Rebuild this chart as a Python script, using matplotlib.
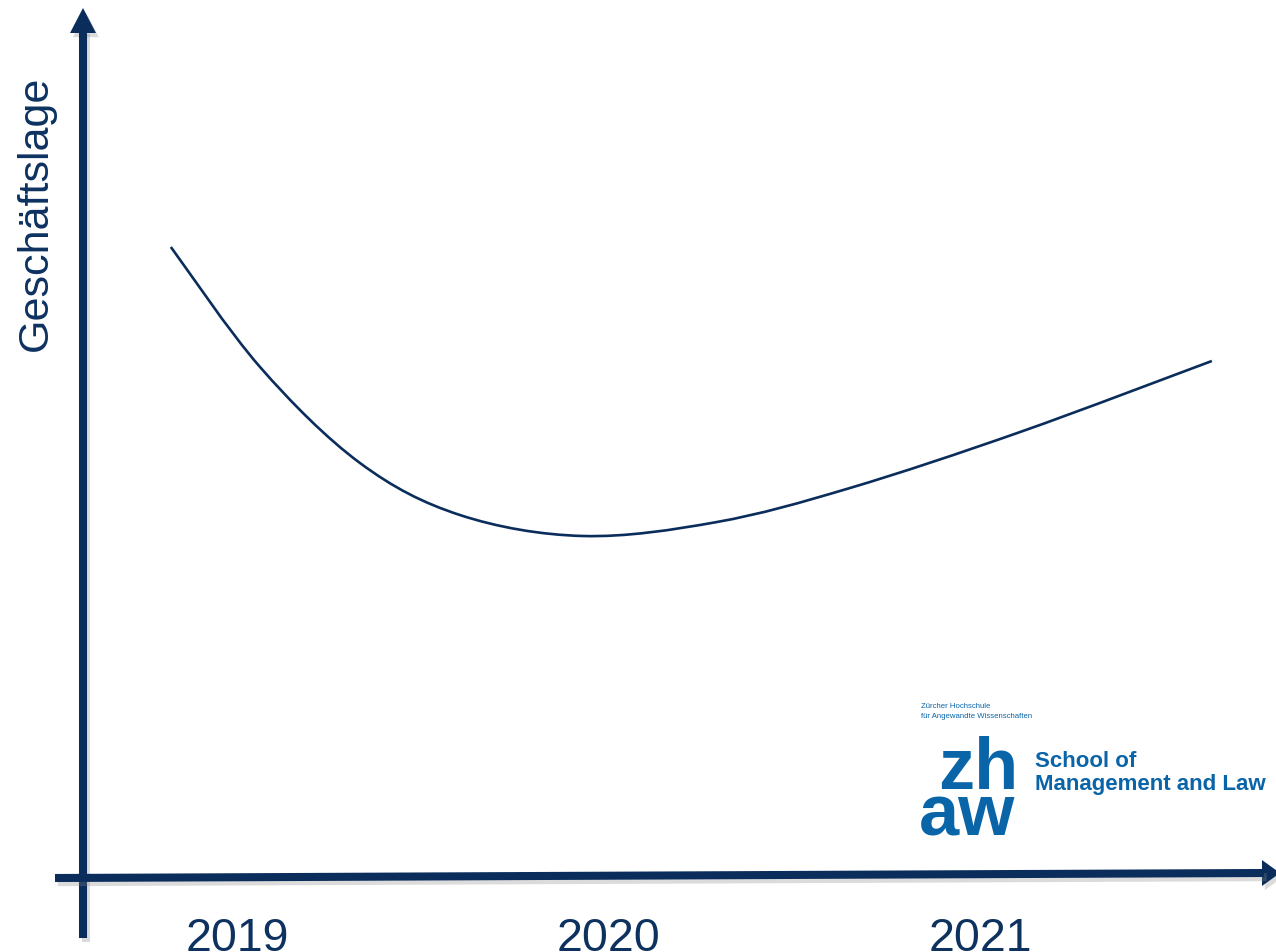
import matplotlib
matplotlib.use("Agg")
import numpy as np
import matplotlib.pyplot as plt
from matplotlib.patches import Polygon, PathPatch
from matplotlib.path import Path
from matplotlib.transforms import Affine2D
import matplotlib.patheffects as pe

# Business-situation curve (years, index level)
years = [2018.822, 2019.062, 2019.331, 2019.600, 2019.931,
         2020.292, 2020.650, 2021.108, 2021.624]
level = [63.1, 51.1, 41.5, 36.3, 34.2,
         35.6, 39.0, 44.6, 51.7]
year_labels = ["2019", "2020", "2021"]
year_ticks = [2019, 2020, 2021]
y_title = "Geschäftslage"

NAVY = "#0b2d5b"
TEXT = "#0e3260"
BLUE = "#0a64a8"

W, H = 1276, 952
fig = plt.figure(figsize=(W / 100, H / 100), dpi=100)
fig.patch.set_facecolor("white")
ax = fig.add_axes([0, 0, 1, 1])
ax.set_xlim(2018.3621, 2021.7967)
ax.set_ylim(-7.4, 87.8)
ax.axis("off")

# pixel coordinates with origin at the top-left corner
pix = Affine2D().scale(1 / W, -1 / H).translate(0, 1) + fig.transFigure

shadow = [pe.SimpleLineShadow(offset=(2, -3), shadow_color="#888888", alpha=0.3),
          pe.Normal()]
poly_shadow = [pe.SimplePatchShadow(offset=(2, -3), shadow_rgbFace="#888888", alpha=0.3),
               pe.Normal()]

# vertical axis with arrow head
fig.add_artist(plt.Line2D([83, 83], [938, 30], transform=pix, color=NAVY,
                          lw=5.8, solid_capstyle="butt", path_effects=shadow))
fig.add_artist(Polygon([[70, 33], [96, 33], [83, 8]], closed=True, transform=pix,
                       facecolor=NAVY, edgecolor="none", path_effects=poly_shadow))

# horizontal axis with arrow head
fig.add_artist(plt.Line2D([55, 1264], [878, 873], transform=pix, color=NAVY,
                          lw=5.8, solid_capstyle="butt", path_effects=shadow))
fig.add_artist(Polygon([[1262, 860], [1262, 886], [1280, 873]], closed=True, transform=pix,
                       facecolor=NAVY, edgecolor="none", path_effects=poly_shadow))

# curve drawn as a smooth Bezier path through the points (Catmull-Rom tangents)
P = np.column_stack([years, level])
verts = [P[0]]
codes = [Path.MOVETO]
for i in range(len(P) - 1):
    p0 = P[i - 1] if i > 0 else P[i]
    p1, p2 = P[i], P[i + 1]
    p3 = P[i + 2] if i + 2 < len(P) else P[i + 1]
    c1 = p1 + (p2 - p0) / 6.0
    c2 = p2 - (p3 - p1) / 6.0
    verts += [c1, c2, p2]
    codes += [Path.CURVE4] * 3
ax.add_patch(PathPatch(Path(verts, codes), facecolor="none", edgecolor=NAVY,
                       lw=1.9, capstyle="butt"))

font = "Liberation Sans"
for t, lab in zip(year_ticks, year_labels):
    ax.text(t, 0.0012, lab, transform=ax.get_xaxis_transform(), ha="center",
            va="baseline", fontsize=33.5, color=TEXT, family=font)

fig.text(36 / W, 1 - 213 / H, y_title, rotation=90, ha="center", va="center",
         fontsize=31, color=TEXT, family=font)

# logo
fig.text(921, 708, "Zürcher Hochschule", transform=pix, fontsize=5.6, color=BLUE,
         family=font, va="baseline", ha="left")
fig.text(921, 718, "für Angewandte Wissenschaften", transform=pix, fontsize=5.6,
         color=BLUE, family=font, va="baseline", ha="left")
fig.text(938, 789, "zh", transform=pix, fontsize=52, color=BLUE, family=font,
         weight="bold", va="baseline", ha="left")
fig.text(919, 836, "aw", transform=pix, fontsize=52, color=BLUE, family=font,
         weight="bold", va="baseline", ha="left")
fig.text(1035, 767, "School of", transform=pix, fontsize=16, color=BLUE,
         family=font, weight="bold", va="baseline", ha="left")
fig.text(1035, 790, "Management and Law", transform=pix, fontsize=16, color=BLUE,
         family=font, weight="bold", va="baseline", ha="left")

fig.savefig("out.png", dpi=100, facecolor="white")
